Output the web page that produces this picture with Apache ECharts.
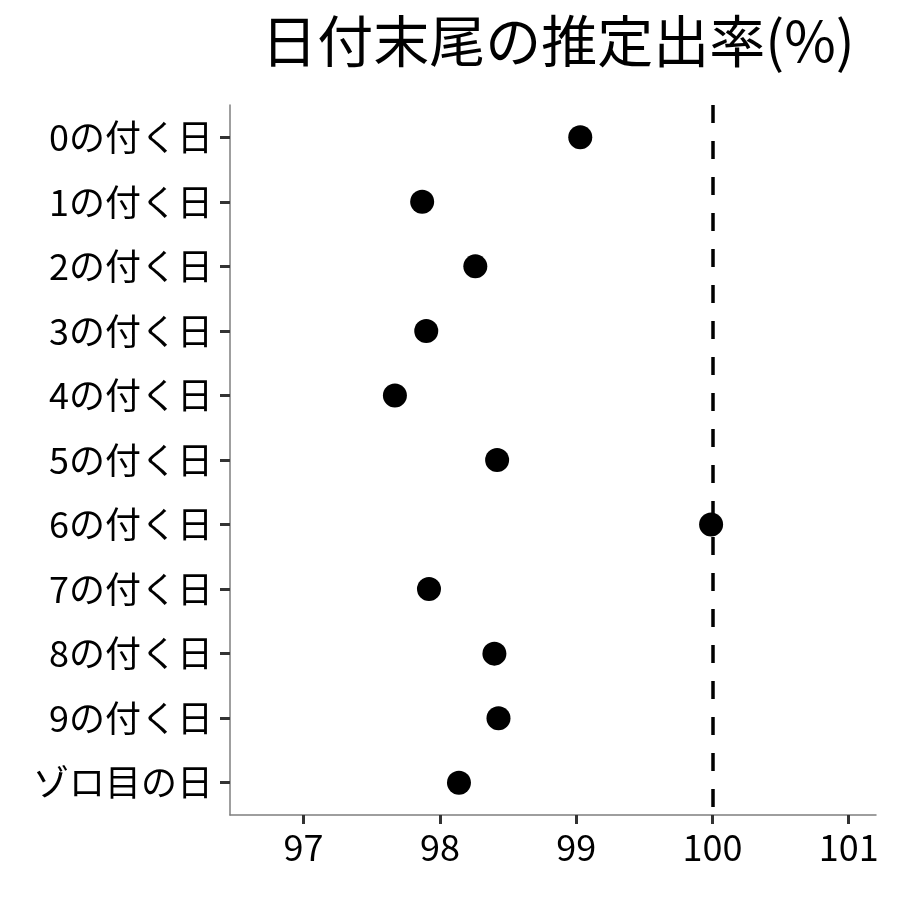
<!DOCTYPE html>
<html><head><meta charset="utf-8">
<script src="https://cdn.jsdelivr.net/npm/echarts@6/dist/echarts.min.js"></script>
<style>html,body{margin:0;padding:0;background:#fff}#c{width:900px;height:900px}</style>
</head><body><div id="c"></div>
<script>
const categories = ['0の付く日','1の付く日','2の付く日','3の付く日','4の付く日','5の付く日','6の付く日','7の付く日','8の付く日','9の付く日','ゾロ目の日'];
const payoutRates = [99.03, 97.87, 98.26, 97.90, 97.67, 98.42, 99.99, 97.92, 98.40, 98.43, 98.14];
const xTicks = [97, 98, 99, 100, 101];
const referenceValue = 100;
const titleText = '日付末尾の推定出率(%)';

const FONT = '"Noto Sans CJK JP", "Noto Sans", sans-serif';
const chart = echarts.init(document.getElementById('c'), null, {renderer: 'canvas'});
chart.setOption({
  backgroundColor: '#fff',
  animation: false,
  title: {
    text: titleText, left: 553, top: 8, textAlign: 'center',
    textStyle: {fontFamily: FONT, fontSize: 56, fontWeight: 'normal', color: '#000'}
  },
  grid: {left: 230, right: 24, top: 105, bottom: 85, containLabel: false},
  xAxis: {
    type: 'value', min: 96.46, max: 101.2,
    axisLine: {show: true, lineStyle: {color: '#7f7f7f', width: 1.5}},
    axisTick: {show: true, length: 9, lineStyle: {color: '#333', width: 3}, customValues: xTicks},
    axisLabel: {fontFamily: FONT, fontSize: 36, color: '#000', margin: 14, customValues: xTicks},
    splitLine: {show: false}
  },
  yAxis: {
    type: 'category', data: categories, inverse: true,
    axisLine: {show: true, lineStyle: {color: '#7f7f7f', width: 1.5}},
    axisTick: {show: true, alignWithLabel: true, length: 10, lineStyle: {color: '#333', width: 3}},
    axisLabel: {fontFamily: FONT, fontSize: 36, color: '#000', margin: 17},
    splitLine: {show: false}
  },
  series: [{
    type: 'scatter',
    data: payoutRates.map((v, i) => [v, categories[i]]),
    symbol: 'circle', symbolSize: 24,
    itemStyle: {color: '#000', opacity: 1},
    z: 5,
    markLine: {
      silent: true, symbol: 'none',
      label: {show: false},
      lineStyle: {color: '#000', width: 3.5, type: [18, 18], opacity: 1},
      data: [{xAxis: referenceValue}]
    }
  }]
});
</script></body></html>
